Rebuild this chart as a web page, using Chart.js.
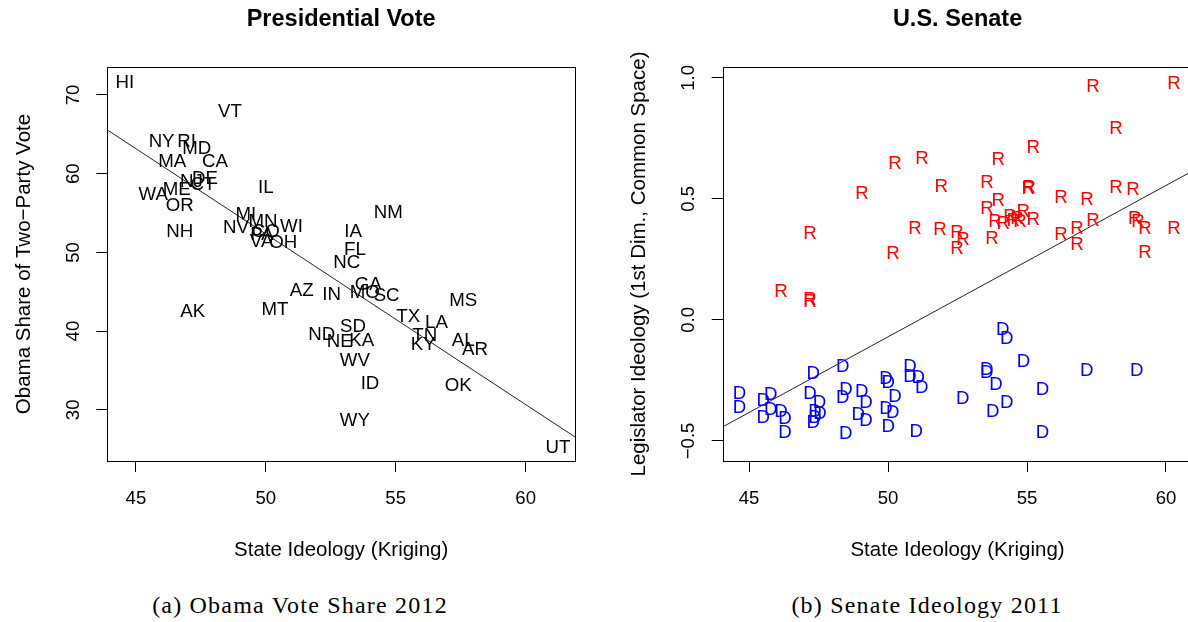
<!DOCTYPE html>
<html>
<head>
<meta charset="utf-8">
<script src="https://cdn.jsdelivr.net/npm/chart.js@4.4.1/dist/chart.umd.min.js"></script>
<style>
  html, body { margin: 0; padding: 0; background: #fff; overflow: hidden; width: 1188px; height: 622px; }
  canvas { position: absolute; top: 0; }
  #voteCanvas { left: 0; }
  #senateCanvas { left: 600px; }
  .caption {
    position: absolute; top: 592px; line-height: 26px;
    font-family: "Liberation Serif", serif; font-size: 24px; letter-spacing: 1.2px;
    color: #000; white-space: nowrap; transform: translateX(-50%);
  }
</style>
</head>
<body>
<canvas id="voteCanvas" width="600" height="580"></canvas>
<canvas id="senateCanvas" width="620" height="580"></canvas>
<div class="caption" style="left:300px">(a) Obama Vote Share 2012</div>
<div class="caption" style="left:927px">(b) Senate Ideology 2011</div>

<script>
// ---- Presidential vote by state ----
const stateCodes = ['HI','VT','NY','RI','MD','MA','CA','NJ','DE','CT','WA','ME','OR','NH','IL','MI','MN','NV','CO','PA',
                    'VA','OH','WI','IA','NM','FL','NC','AZ','IN','GA','MO','SC','MT','MS','TX','LA','TN','KY','AL','AR',
                    'ND','SD','NE','KA','WV','ID','OK','WY','AK','UT'];
const stateIdeology = [44.58,48.62,45.99,46.95,47.34,46.40,48.04,47.14,47.66,47.58,45.67,46.57,46.69,46.69,50.00,49.23,49.89,48.85,50.00,49.85,
                       49.84,50.67,50.99,53.36,54.71,53.43,53.12,51.38,52.53,53.94,53.81,54.65,50.35,57.60,55.48,56.57,56.12,56.06,57.60,58.05,
                       52.15,53.36,52.85,53.69,53.43,54.01,57.41,53.43,47.19,61.24];
const obamaShare = [71.69,68.10,64.20,64.29,63.31,61.66,61.75,59.21,59.56,58.83,57.53,58.16,56.17,52.78,58.45,54.99,54.14,53.29,52.80,52.49,
                    51.60,51.38,53.50,52.87,55.19,50.46,48.85,45.32,44.83,46.05,45.04,44.68,42.93,44.07,41.95,41.23,39.54,38.40,38.91,37.86,
                    39.76,40.69,38.78,38.91,36.37,33.49,33.20,28.85,42.59,25.33];
const voteFitX = [43.90, 61.90];
const voteFitY = [65.56, 26.55];

// ---- Senators, 2011 ----
const repStateIdeology = [57.37,60.29,58.20,55.22,53.96,51.22,50.25,49.06,51.91,53.56,55.04,55.07,56.22,57.16,58.20,58.81,
                          53.96,53.56,50.97,51.87,52.48,52.70,52.48,53.74,53.85,54.14,54.39,54.64,54.86,55.22,54.75,56.22,
                          56.80,56.80,57.37,58.88,58.99,59.24,60.29,59.24,50.18,47.19,46.15,47.19,47.19,54.50];
const repScore = [0.971,0.983,0.798,0.719,0.669,0.674,0.653,0.529,0.558,0.574,0.550,0.554,0.512,0.504,0.554,0.545,
                  0.500,0.467,0.384,0.380,0.368,0.339,0.302,0.343,0.413,0.405,0.434,0.426,0.455,0.421,0.413,0.360,
                  0.384,0.318,0.417,0.426,0.413,0.384,0.384,0.285,0.281,0.364,0.124,0.091,0.083,0.417];
const demStateIdeology = [44.65,44.65,45.51,45.78,45.51,45.78,46.15,46.29,46.29,47.31,47.19,47.53,47.37,47.55,47.31,47.37,
                          48.37,48.49,48.37,48.48,49.05,49.21,48.93,49.21,49.93,50.01,50.25,49.93,50.17,50.01,50.79,50.79,
                          51.09,51.21,51.01,54.13,54.27,54.87,53.55,53.55,53.88,52.69,54.27,53.77,55.56,55.56,57.15,58.95];
const demScore = [-0.300,-0.355,-0.328,-0.303,-0.400,-0.365,-0.375,-0.402,-0.462,-0.218,-0.300,-0.338,-0.372,-0.383,-0.420,-0.400,
                  -0.186,-0.282,-0.317,-0.466,-0.292,-0.338,-0.386,-0.410,-0.237,-0.255,-0.310,-0.361,-0.379,-0.434,-0.186,-0.227,
                  -0.234,-0.273,-0.455,-0.034,-0.071,-0.168,-0.200,-0.214,-0.262,-0.319,-0.338,-0.372,-0.282,-0.462,-0.204,-0.204];
const senateFitX = [44.05, 60.95];
const senateFitY = [-0.442, 0.615];

// ---- axis ticks ----
const ideologyTicks = [45, 50, 55, 60];
const voteTicks = [30, 40, 50, 60, 70];
const voteTickLabels = ['30', '40', '50', '60', '70'];
const senateTicks = [-0.5, 0, 0.5, 1.0];
const senateTickLabels = ['\u22120.5', '0.0', '0.5', '1.0'];

const SANS = '"Liberation Sans", Arial, sans-serif';
const MARK_SIZE = 18.7;
const TICK_SIZE = 18.6;
const LAB_SIZE = 20.5;
const TITLE_SIZE = 23.5;

// Draws each dataset's labels as text markers at the points the scales place.
const textMarks = {
  id: 'textMarks',
  afterDatasetsDraw(chart) {
    const ctx = chart.ctx;
    const a = chart.chartArea;
    chart.data.datasets.forEach((ds, i) => {
      if (!ds.markText) return;
      const meta = chart.getDatasetMeta(i);
      ctx.save();
      ctx.beginPath();
      ctx.rect(a.left, a.top, a.right - a.left, a.bottom - a.top);
      ctx.clip();
      ctx.font = MARK_SIZE + 'px ' + SANS;
      ctx.fillStyle = ds.markColor;
      ctx.textAlign = 'center';
      ctx.textBaseline = 'alphabetic';
      meta.data.forEach((pt, j) => {
        ctx.fillText(ds.markText[j], pt.x, pt.y + 0.36 * MARK_SIZE);
      });
      ctx.restore();
    });
  }
};

// Box around the plot region, rotated y tick labels, titles.
const frame = {
  id: 'frame',
  afterDraw(chart, args, o) {
    const ctx = chart.ctx;
    const a = chart.chartArea;
    const ys = chart.scales.y;
    ctx.save();
    ctx.strokeStyle = '#000';
    ctx.lineWidth = 1;
    ctx.strokeRect(Math.round(a.left) + 0.5, Math.round(a.top) + 0.5,
                   Math.round(a.right - a.left), Math.round(a.bottom - a.top));
    ctx.fillStyle = '#000';
    ctx.textAlign = 'center';
    ctx.textBaseline = 'alphabetic';

    ctx.font = TICK_SIZE + 'px ' + SANS;
    ys.ticks.forEach((t, k) => {
      const py = ys.getPixelForValue(t.value);
      ctx.save();
      ctx.translate(a.left - 35 + 0.358 * TICK_SIZE, py);
      ctx.rotate(-Math.PI / 2);
      ctx.fillText(o.yLabels[k], 0, 0);
      ctx.restore();
    });

    const cx = (a.left + a.right) / 2;
    const cy = (a.top + a.bottom) / 2;
    ctx.font = LAB_SIZE + 'px ' + SANS;
    ctx.fillText(o.xTitle, cx, 549 + 0.358 * LAB_SIZE);
    ctx.save();
    ctx.translate(a.left - 85 + 0.358 * LAB_SIZE, cy);
    ctx.rotate(-Math.PI / 2);
    ctx.fillText(o.yTitle, 0, 0);
    ctx.restore();

    ctx.font = 'bold ' + TITLE_SIZE + 'px ' + SANS;
    ctx.fillText(o.title, cx, 18 + 0.358 * TITLE_SIZE);
    ctx.restore();
  }
};

function points(xs, ys) {
  return xs.map((x, i) => ({ x: x, y: ys[i] }));
}

function buildChart(canvasId, cfg) {
  const tickGrid = { display: true, drawOnChartArea: false, drawTicks: true, tickLength: 11, color: '#000', lineWidth: 1 };
  return new Chart(document.getElementById(canvasId), {
    type: 'scatter',
    data: { datasets: cfg.datasets },
    options: {
      responsive: false,
      animation: false,
      events: [],
      layout: { padding: { top: 67, right: cfg.padRight, bottom: 0, left: 0 } },
      plugins: {
        legend: { display: false },
        tooltip: { enabled: false },
        frame: { title: cfg.title, xTitle: cfg.xTitle, yTitle: cfg.yTitle, yLabels: cfg.yLabels }
      },
      scales: {
        x: {
          type: 'linear', position: 'bottom',
          min: cfg.xMin, max: cfg.xMax,
          afterBuildTicks: s => { s.ticks = ideologyTicks.map(v => ({ value: v })); },
          afterFit: s => { s.height = 119; },
          ticks: { color: '#000', padding: 16, font: { family: SANS, size: TICK_SIZE }, maxRotation: 0, autoSkip: false },
          grid: tickGrid,
          border: { display: false }
        },
        y: {
          type: 'linear', position: 'left',
          min: cfg.yMin, max: cfg.yMax,
          afterBuildTicks: s => { s.ticks = cfg.yTicks.map(v => ({ value: v })); },
          afterFit: s => { s.width = cfg.yWidth; },
          ticks: { display: false },
          grid: tickGrid,
          border: { display: false }
        }
      }
    },
    plugins: [textMarks, frame]
  });
}

buildChart('voteCanvas', {
  title: 'Presidential Vote',
  xTitle: 'State Ideology (Kriging)',
  yTitle: 'Obama Share of Two\u2212Party Vote',
  yLabels: voteTickLabels,
  yTicks: voteTicks,
  xMin: 43.90, xMax: 61.90, yMin: 23.5, yMax: 73.55,
  yWidth: 107.3, padRight: 25,
  datasets: [
    { data: points(voteFitX, voteFitY), showLine: true, borderColor: '#222', borderWidth: 1, pointRadius: 0, fill: false },
    { data: points(stateIdeology, obamaShare), pointRadius: 0, markText: stateCodes, markColor: '#000' }
  ]
});

buildChart('senateCanvas', {
  title: 'U.S. Senate',
  xTitle: 'State Ideology (Kriging)',
  yTitle: 'Legislator Ideology (1st Dim., Common Space)',
  yLabels: senateTickLabels,
  yTicks: senateTicks,
  xMin: 44.05, xMax: 60.95, yMin: -0.583, yMax: 1.045,
  yWidth: 122.7, padRight: 27.6,
  datasets: [
    { data: points(senateFitX, senateFitY), showLine: true, borderColor: '#222', borderWidth: 1, pointRadius: 0, fill: false },
    { data: points(repStateIdeology, repScore), pointRadius: 0, markText: repScore.map(() => 'R'), markColor: '#ff0000' },
    { data: points(demStateIdeology, demScore), pointRadius: 0, markText: demScore.map(() => 'D'), markColor: '#0000ff' }
  ]
});
</script>
</body>
</html>
